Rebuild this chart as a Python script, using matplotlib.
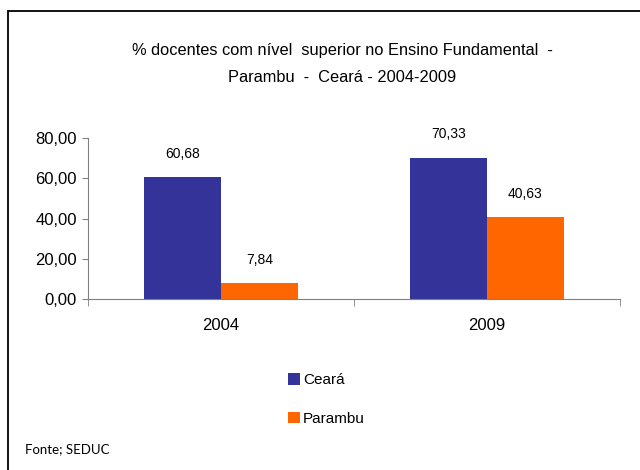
import matplotlib.pyplot as plt
from matplotlib.patches import Rectangle
import numpy as np

anos = ["2004", "2009"]
ceara = [60.68, 70.33]
parambu = [7.84, 40.63]
rotulos_ceara = ["60,68", "70,33"]
rotulos_parambu = ["7,84", "40,63"]

plt.rcParams['font.family'] = ['Liberation Sans', 'DejaVu Sans']

fig = plt.figure(figsize=(6.4, 4.7), dpi=100)
ax = fig.add_axes([0.1375, 0.364, 0.831, 0.342])

x = np.arange(len(anos))
w = 0.29
b1 = ax.bar(x - w/2, ceara, w, color="#333399", label="Ceará")
b2 = ax.bar(x + w/2, parambu, w, color="#FF6600", label="Parambu")

for bar, t in zip(b1, rotulos_ceara):
    ax.annotate(t, (bar.get_x() + bar.get_width()/2, bar.get_height()),
                xytext=(0, 14), textcoords="offset points", ha="center", fontsize=10)
for bar, t in zip(b2, rotulos_parambu):
    ax.annotate(t, (bar.get_x() + bar.get_width()/2, bar.get_height()),
                xytext=(0, 14), textcoords="offset points", ha="center", fontsize=10)

ax.set_xlim(-0.5, 1.5)
ax.set_ylim(0, 80)
ax.set_yticks([0, 20, 40, 60, 80])
ax.set_yticklabels(["0,00", "20,00", "40,00", "60,00", "80,00"], fontsize=12)
ax.set_xticks(x)
ax.set_xticklabels(anos, fontsize=12)
ax.set_xticks([-0.5, 0.5, 1.5], minor=True)
ax.tick_params(axis="x", which="major", length=0, pad=14)
ax.tick_params(axis="x", which="minor", length=5, color="#808080")
ax.tick_params(axis="y", length=4, color="#808080", pad=4)

for s in ["top", "right"]:
    ax.spines[s].set_visible(False)
ax.spines["left"].set_color("#808080")
ax.spines["bottom"].set_color("#808080")

fig.text(0.535, 0.893, "% docentes com nível  superior no Ensino Fundamental  -",
         ha="center", va="center", fontsize=11.8)
fig.text(0.535, 0.836, "Parambu  -  Ceará - 2004-2009",
         ha="center", va="center", fontsize=11.8)

fig.legend(handles=[b1, b2], loc="center", bbox_to_anchor=(0.51, 0.15),
           frameon=False, fontsize=11, handlelength=0.8, handleheight=0.8,
           handletextpad=0.2, labelspacing=1.6)

fig.text(0.039, 0.035, "Fonte; SEDUC", fontsize=9.5, family=["Lato", "DejaVu Sans"])

fig.patches.append(Rectangle((8/640, -0.1), 1.1, 1 - 11/470 + 0.1,
                             transform=fig.transFigure, fill=False,
                             edgecolor="black", linewidth=1.3))

fig.savefig("out.png", dpi=100)
